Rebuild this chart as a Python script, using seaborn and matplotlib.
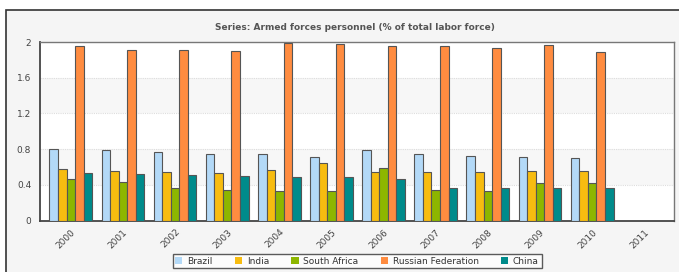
import matplotlib
matplotlib.use("Agg")
import matplotlib.pyplot as plt
import matplotlib.patches as mpatches
import numpy as np
import pandas as pd
import seaborn as sns

years = ["2000", "2001", "2002", "2003", "2004", "2005", "2006", "2007", "2008", "2009", "2010", "2011"]
series_names = ["Brazil", "India", "South Africa", "Russian Federation", "China"]
brazil = [0.80, 0.785, 0.77, 0.75, 0.75, 0.71, 0.785, 0.75, 0.725, 0.71, 0.70, np.nan]
india = [0.58, 0.55, 0.54, 0.535, 0.57, 0.645, 0.545, 0.545, 0.545, 0.555, 0.555, np.nan]
south_africa = [0.465, 0.43, 0.36, 0.34, 0.33, 0.33, 0.585, 0.34, 0.33, 0.42, 0.42, np.nan]
russia = [1.955, 1.91, 1.91, 1.90, 1.99, 1.98, 1.955, 1.96, 1.935, 1.97, 1.89, np.nan]
china = [0.535, 0.52, 0.51, 0.50, 0.485, 0.485, 0.46, 0.36, 0.36, 0.36, 0.36, np.nan]
colors = ["#B3D9F7", "#F7BC10", "#8DB600", "#FF8C40", "#008B8B"]
yticks = [0, 0.4, 0.8, 1.2, 1.6, 2]
ytick_labels = ["0", "0.4", "0.8", "1.2", "1.6", "2"]
title = "Series: Armed forces personnel (% of total labor force)"

values = [brazil, india, south_africa, russia, china]
rows = []
for name, vals in zip(series_names, values):
    for y, v in zip(years, vals):
        rows.append({"Year": y, "Country": name, "Value": v})
df = pd.DataFrame(rows)

sns.set_theme(style="white")
plt.rcParams['font.family'] = ['Verdana', 'DejaVu Sans']

fig = plt.figure(figsize=(6.79, 2.72), dpi=100)
fig.patch.set_facecolor("white")
# outer frame (right and bottom edges run off the image)
frame = mpatches.Rectangle((6 / 679, -0.1), 1.2, (272 - 10) / 272 + 0.1,
                           transform=fig.transFigure, facecolor="#F5F5F5",
                           edgecolor="#333333", linewidth=1.2, zorder=-10)
fig.patches.append(frame)

ax = fig.add_axes([39.5 / 679, 51.5 / 272, 634.5 / 679, 178.5 / 272])
ax.set_facecolor("white")

# alternating bands
for lo, hi in [(1.2, 1.6), (0.4, 0.8)]:
    ax.axhspan(lo, hi, facecolor="#F7F7F7", edgecolor="none", zorder=0)

sns.barplot(data=df, x="Year", y="Value", hue="Country", order=years,
            hue_order=series_names, palette=colors, width=0.82, ax=ax,
            edgecolor="#555555", linewidth=0.8, saturation=1, legend=False,
            errorbar=None, zorder=3)

ax.set_xlim(-0.6, 11.57)
ax.set_ylim(0, 2.0)
ax.set_yticks(yticks)
ax.set_yticklabels(ytick_labels)
for y in yticks[1:-1]:
    ax.axhline(y, color="#DDDDDD", linestyle=(0, (1, 1)), linewidth=0.8, zorder=1)

ax.set_xlabel("")
ax.set_ylabel("")
ax.tick_params(axis="both", length=0, labelsize=6.5, labelcolor="#444444")
ax.tick_params(axis="y", pad=6)
ax.tick_params(axis="x", pad=5)
for lbl in ax.get_xticklabels():
    lbl.set_rotation(45)
    lbl.set_ha("right")
    lbl.set_rotation_mode("anchor")

for side in ["top", "right"]:
    ax.spines[side].set_color("#777777")
    ax.spines[side].set_linewidth(1.0)
for side in ["left", "bottom"]:
    ax.spines[side].set_color("#444444")
    ax.spines[side].set_linewidth(1.3)

fig.text(355 / 679, 1 - 28 / 272, title, ha="center", va="center",
         fontsize=6.5, fontweight="bold", color="#555555")

handles = [mpatches.Patch(facecolor=c, edgecolor="none", label=n)
           for c, n in zip(colors, series_names)]
leg = fig.legend(handles=handles, loc="center", bbox_to_anchor=(357 / 679, 1 - 261 / 272),
                 ncol=5, fontsize=6.5, frameon=True, fancybox=False,
                 handlelength=0.8, handleheight=0.8, handletextpad=0.5,
                 columnspacing=2.5, borderpad=0.3)
leg.get_frame().set_edgecolor("#333333")
leg.get_frame().set_linewidth(1.0)
leg.get_frame().set_facecolor("white")
for t in leg.get_texts():
    t.set_color("#333333")

fig.savefig("out.png", dpi=100, facecolor=fig.get_facecolor())
